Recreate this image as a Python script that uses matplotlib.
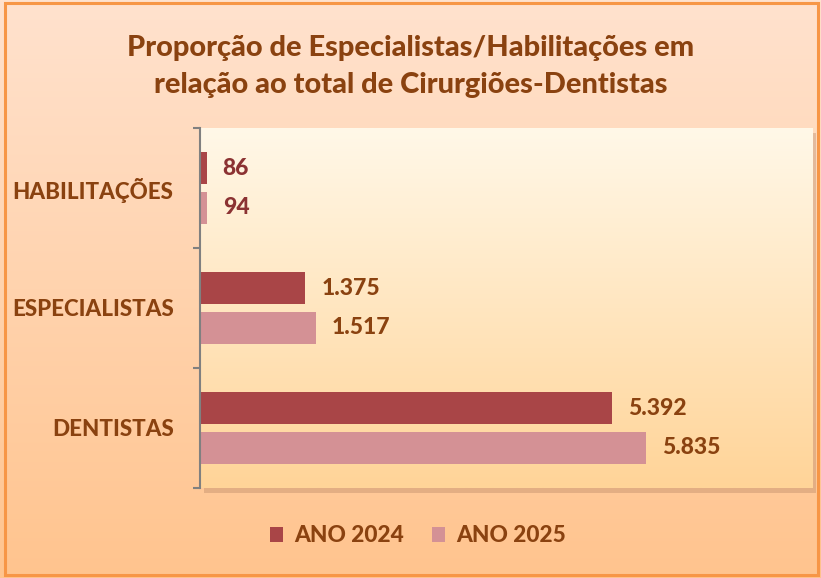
import numpy as np
import matplotlib.pyplot as plt
from matplotlib.patches import Rectangle

categorias = ['DENTISTAS', 'ESPECIALISTAS', 'HABILITAÇÕES']
ano_2024 = [5392, 1375, 86]
ano_2025 = [5835, 1517, 94]
series = ['ANO 2024', 'ANO 2025']

cor_2024 = '#A94547'
cor_2025 = '#D49195'
cor_texto = '#8A4210'
cor_rotulo_hab = '#8B3232'

plt.rcParams['font.family'] = ['Lato', 'DejaVu Sans']
PESO = 900

W, H = 821, 578
fig = plt.figure(figsize=(W / 100, H / 100), dpi=100)

# fundo com gradiente (figura inteira)
bg = fig.add_axes([0, 0, 1, 1], zorder=0)
grad = np.linspace(0, 1, 256).reshape(-1, 1)
c_top = np.array([255, 226, 206]) / 255
c_bot = np.array([255, 196, 142]) / 255
img = c_top + (c_bot - c_top) * grad[:, :, None]
bg.imshow(img, aspect='auto', extent=[0, 1, 0, 1])
bg.add_patch(Rectangle((5 / W, 3 / H), 813 / W, 572 / H, fill=False,
                       edgecolor='#F79646', lw=2.2, transform=bg.transAxes))
bg.set_xlim(0, 1)
bg.set_ylim(0, 1)
bg.axis('off')

# área do gráfico
x0, x1 = 200 / W, 812 / W
y0, y1 = (H - 488) / H, (H - 128) / H
# sombra
bg.add_patch(Rectangle((x0 + 4 / W, y0 - 5 / H), x1 - x0, y1 - y0,
                       facecolor='#B08060', alpha=0.35, edgecolor='none'))
ax = fig.add_axes([x0, y0, x1 - x0, y1 - y0], zorder=1)
ax.set_xlim(0, 8000)
ax.set_ylim(-0.5, 2.5)
p_top = np.array([255, 248, 232]) / 255
p_bot = np.array([255, 212, 152]) / 255
img2 = p_top + (p_bot - p_top) * grad[:, :, None]
ax.imshow(img2, aspect='auto', extent=[0, 8000, -0.5, 2.5], zorder=0)

y = np.arange(len(categorias))
h = 0.27
off = 0.165
b1 = ax.barh(y + off, ano_2024, height=h, color=cor_2024, label=series[0], zorder=2)
b2 = ax.barh(y - off, ano_2025, height=h, color=cor_2025, label=series[1], zorder=2)

def fmt(v):
    return f'{v:,}'.replace(',', '.')

for bars, vals in [(b1, ano_2024), (b2, ano_2025)]:
    for i, (bar, v) in enumerate(zip(bars, vals)):
        cor = cor_rotulo_hab if categorias[i] == 'HABILITAÇÕES' else cor_texto
        ax.annotate(fmt(v), (bar.get_width(), bar.get_y() + bar.get_height() / 2),
                    xytext=(11.5, 0), textcoords='offset points', va='center',
                    ha='left', fontsize=16.5, fontweight=PESO, color=cor)

ax.set_yticks(y)
ax.set_yticklabels(categorias, fontsize=16.1, fontweight=PESO, color=cor_texto)
ax.set_yticks([-0.5, 0.5, 1.5, 2.5], minor=True)
ax.tick_params(axis='y', which='major', length=0, pad=19)
ax.tick_params(axis='y', which='minor', length=5, color='#808080', width=1.5)
ax.set_xticks([])
for s in ['top', 'right', 'bottom']:
    ax.spines[s].set_visible(False)
ax.spines['left'].set_color('#808080')
ax.spines['left'].set_linewidth(1.5)

fig.text(0.5, 1 - 48 / H, 'Proporção de Especialistas/Habilitações em',
         ha='center', va='center', fontsize=20.9, fontweight=PESO, color=cor_texto)
fig.text(0.5, 1 - 85 / H, 'relação ao total de Cirurgiões-Dentistas',
         ha='center', va='center', fontsize=20.9, fontweight=PESO, color=cor_texto)

leg = fig.legend(handles=[b1, b2], labels=series, loc='center',
                 bbox_to_anchor=(418 / W, 1 - 536 / H), ncol=2, frameon=False,
                 handlelength=0.6, handleheight=0.6, handletextpad=0.5,
                 columnspacing=1.2, prop={'size': 16.3, 'weight': PESO})
for t in leg.get_texts():
    t.set_color(cor_texto)

fig.savefig('out.png', dpi=100)
